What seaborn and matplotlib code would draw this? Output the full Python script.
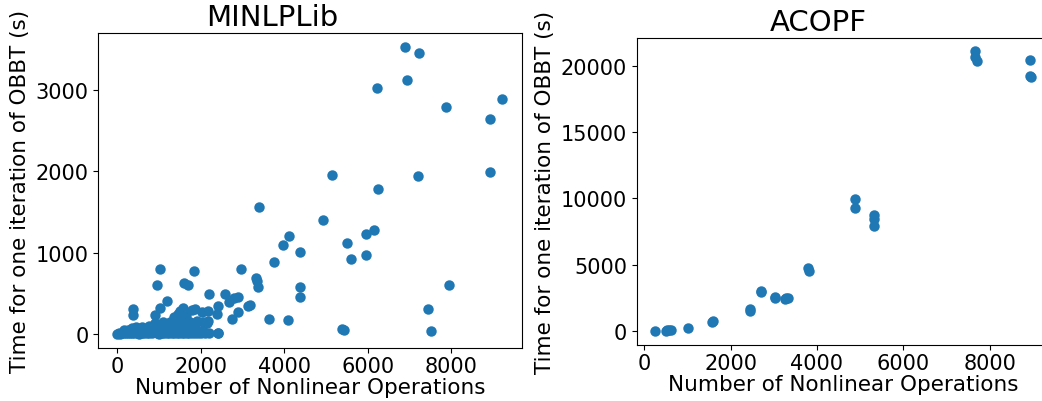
import matplotlib
matplotlib.use("Agg")
import matplotlib.pyplot as plt
import seaborn as sns
import numpy as np

# MINLPLib: number of nonlinear operations vs. time for one OBBT iteration (s)
minlp_ops = [
    # dense cluster near the origin, bottom row
    0, 30, 60, 100, 150, 200, 250, 300, 350, 400, 460, 520, 580, 640, 700, 760,
    820, 880, 940, 1000, 1060, 1120, 1180, 1240, 1300, 1360, 1420, 1480, 1540,
    1600, 1660, 1720, 1780, 1850, 1920, 2000, 2100, 2200, 2400,
    # second row
    150, 250, 350, 450, 550, 650, 750, 850, 950, 1050, 1150, 1250, 1350, 1450,
    1550, 1650, 1750, 1900, 2050,
    # third row
    350, 450, 600, 750, 900, 1050, 1200, 1300, 1400, 1500, 1600, 1700, 1800,
    # fourth row
    900, 1100, 1250, 1350, 1450, 1550, 1650, 1750, 2050, 2150,
    # fifth row
    1350, 1450, 1500, 1550, 1600, 1650,
    # scattered low points
    379, 379, 900, 1019, 1180, 1579, 1779, 1859, 2019, 2178, 2178, 2379, 1906,
    2738, 3137, 2400, 2403,
    # mid and upper points
    6894, 7238, 6942, 6223, 7886, 9230, 8925, 5151, 7214, 8925, 6255, 3393,
    4936, 4105, 3961, 6159, 5952, 5504, 4376, 5952, 5607, 3760, 2969, 1012,
    1842, 3321, 3345, 3362, 947, 1587, 1699, 4369, 4369, 7942, 7446, 7518,
    5384, 5440, 3633, 4089, 2202, 2578, 2674, 2801, 2897, 3170, 2897,
]
minlp_time = [
    2, 8, 1, 5, 10, 3, 12, 6, 15, 4, 9, 2, 14, 7, 3, 11,
    5, 16, 8, 2, 13, 6, 10, 4, 15, 7, 3, 12, 9,
    5, 14, 8, 3, 10, 6, 4, 12, 7, 9,
    40, 45, 50, 42, 55, 48, 52, 46, 58, 44, 50, 56, 47, 53,
    49, 57, 45, 40, 35,
    75, 85, 80, 95, 90, 100, 88, 105, 95, 110, 98, 104, 85,
    130, 150, 140, 170, 160, 180, 165, 150, 140, 130,
    210, 240, 283, 230, 260, 220,
    304, 234, 234, 316, 399, 316, 292, 304, 263, 283, 160, 243, 160,
    181, 345, 9, 345,
    3527, 3457, 3120, 3022, 2796, 2887, 2648, 1958, 1942, 1988, 1778, 1564,
    1404, 1203, 1096, 1277, 1228, 1117, 1002, 965, 924, 883, 797, 793,
    768, 682, 645, 571, 600, 624, 604, 575, 448, 596, 304, 37,
    54, 50, 177, 173, 489, 489, 394, 436, 456, 353, 271,
]

# ACOPF
acopf_ops = [
    263, 500, 540, 580, 620, 1018, 1580, 1600, 2450, 2455, 2707, 2710,
    3031, 3035, 3263, 3290, 3324, 3804, 3806, 4883, 4883, 5309, 5309, 5312,
    7646, 7646, 7692, 8919, 8933, 8949,
]
acopf_time = [
    0, 20, 40, 60, 80, 226, 650, 720, 1650, 1500, 3040, 2920,
    2560, 2500, 2420, 2500, 2460, 4770, 4520, 9928, 9250, 8745, 8443, 7893,
    21085, 20633, 20332, 20453, 19246, 19171,
]

fig = plt.figure(figsize=(10.42, 4.02), dpi=100)
ax1 = fig.add_axes([0.0943, 0.1318, 0.4063, 0.7836])
ax2 = fig.add_axes([0.6110, 0.1393, 0.3964, 0.7637])

dot = dict(s=36, color="#1f77b4", edgecolor="#1f77b4", linewidth=1.5)
sns.scatterplot(x=minlp_ops, y=minlp_time, ax=ax1, **dot)
sns.scatterplot(x=acopf_ops, y=acopf_time, ax=ax2, **dot)

ax1.set_xlim(-460, 9693)
ax1.set_ylim(-176, 3703)
ax2.set_xlim(-171, 9384)
ax2.set_ylim(-1055, 22088)

for ax, title, tx in [(ax1, "MINLPLib", 0.41), (ax2, "ACOPF", 0.44)]:
    ax.set_title(title, fontsize=21, x=tx)
    ax.set_xlabel("Number of Nonlinear Operations", fontsize=15.5, labelpad=1)
    ax.set_ylabel("Time for one iteration of OBBT (s)", fontsize=15.5)
    ax.tick_params(labelsize=15)
    ax.tick_params(axis="x", pad=2)

fig.savefig("out.png", dpi=100)
